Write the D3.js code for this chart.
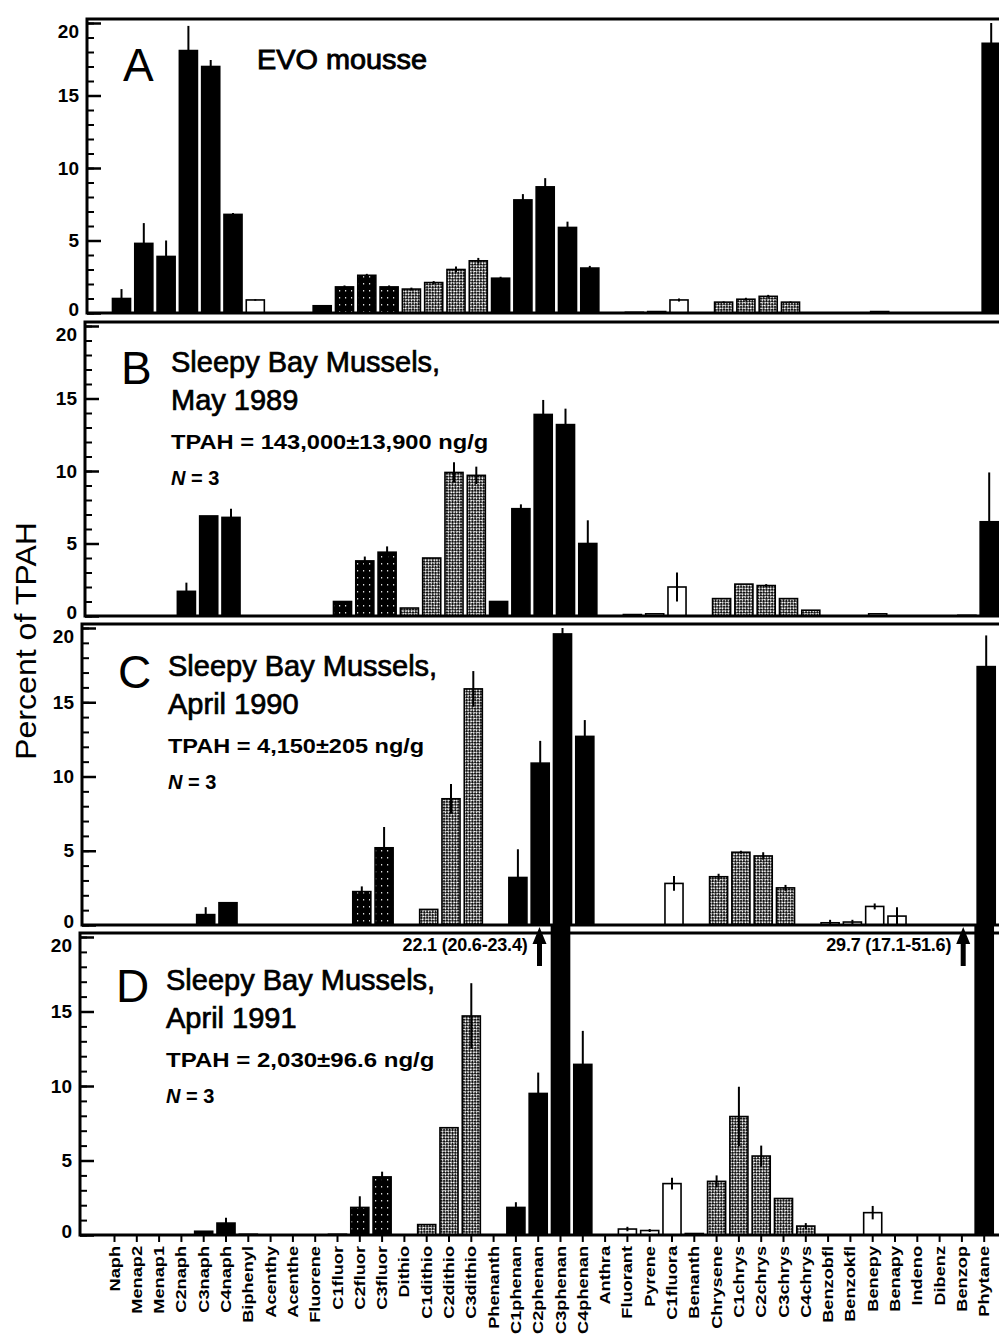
<!DOCTYPE html>
<html>
<head>
<meta charset="utf-8">
<script src="https://cdn.jsdelivr.net/npm/d3@7"></script>
<style>
  body { margin: 0; background: #fff; }
  svg { display: block; font-family: "Liberation Sans", Arial, sans-serif; }
</style>
</head>
<body>
<svg id="chart" width="999" height="1338"></svg>
<script>
// compounds on the x axis
const categories = ['Naph','Menap2','Menap1','C2naph','C3naph','C4naph','Biphenyl','Acenthy','Acenthe','Fluorene',
  'C1fluor','C2fluor','C3fluor','Dithio','C1dithio','C2dithio','C3dithio','Phenanth','C1phenan','C2phenan',
  'C3phenan','C4phenan','Anthra','Fluorant','Pyrene','C1fluora','Benanth','Chrysene','C1chrys','C2chrys',
  'C3chrys','C4chrys','Benzobfl','Benzokfl','Benepy','Benapy','Indeno','Dibenz','Benzop','Phytane'];

// bar fill per compound
const fills = ['black','black','black','black','black','black','white','white','white','black',
  'dark','dark','dark','gray','gray','gray','gray','black','black','black',
  'black','black','white','white','white','white','black','gray','gray','gray',
  'gray','gray','white','white','white','white','white','white','white','black'];

// percent of TPAH, mean and error (upper bar length)
const valuesA = [1.0,4.8,3.9,18.1,17.0,6.8,0.9,0,0,0.5, 1.8,2.6,1.8,1.65,2.1,3.0,3.6,2.4,7.8,8.7,
  5.9,3.1,0,0.05,0.1,0.9,0,0.75,0.95,1.15, 0.75,0,0,0,0.1,0,0,0,0,18.6];
const errA = [0.65,1.4,1.1,1.7,0.45,0.1,0.05,0,0,0, 0.1,0.1,0.1,0.1,0.1,0.2,0.2,0.1,0.4,0.6,
  0.4,0.15,0,0,0,0.1,0,0.05,0.1,0.1, 0.05,0,0,0,0,0,0,0,0,1.6];

const valuesB = [0,0,0,1.7,6.9,6.8,0,0,0,0, 1.0,3.8,4.4,0.55,4.0,9.9,9.7,1.0,7.4,13.9,
  13.2,5.0,0,0.1,0.15,2.0,0,1.2,2.2,2.1, 1.2,0.4,0,0,0.15,0,0,0,0.05,6.5];
const errB = [0,0,0,0.6,0,0.6,0,0,0,0, 0,0.3,0.4,0,0,0.7,0.6,0,0.3,1.0,
  1.1,1.6,0,0,0,1.0,0,0,0,0.1, 0,0,0,0,0,0,0,0,0,3.4];

const valuesC = [0,0,0,0,0.7,1.5,0,0,0,0, 0,2.25,5.2,0,1.05,8.5,15.9,0,3.2,10.9,
  19.6,12.7,0,0,0,2.8,0,3.25,4.9,4.65, 2.5,0,0.15,0.2,1.25,0.6,0,0,0,17.4];
const errC = [0,0,0,0,0.5,0,0,0,0,0, 0,0.35,1.4,0,0,1.0,1.2,0,1.9,1.5,
  0.6,1.1,0,0,0,0.5,0,0.2,0.1,0.25, 0.2,0,0.2,0.15,0.2,0.6,0,0,0,2.1];

const valuesD = [0,0,0,0,0.25,0.8,0.05,0,0,0, 0.05,1.85,3.9,0,0.7,7.2,14.7,0,1.85,9.5,
  22.1,11.45,0,0.4,0.3,3.45,0.1,3.6,7.95,5.3, 2.45,0.6,0,0,1.5,0,0,0,0,29.7];
const errD = [0,0,0,0,0,0.35,0,0,0,0, 0,0.75,0.35,0,0,0,2.2,0,0.35,1.4,
  0,2.25,0,0.15,0.1,0.4,0,0.4,2.0,0.7, 0,0.2,0,0,0.45,0,0,0,0,0];

// panel captions
const panelLetters = ['A','B','C','D'];
const panelTitles = [['EVO mousse'], ['Sleepy Bay Mussels,','May 1989'],
  ['Sleepy Bay Mussels,','April 1990'], ['Sleepy Bay Mussels,','April 1991']];
const panelTpah = ['', 'TPAH = 143,000\u00B113,900 ng/g', 'TPAH = 4,150\u00B1205 ng/g', 'TPAH = 2,030\u00B196.6 ng/g'];
const panelN = ['', '3', '3', '3'];

// off-scale values in panel D
const offscaleCats = ['C3phenan','Phytane'];
const offscaleTexts = ['22.1 (20.6-23.4)','29.7 (17.1-51.6)'];

const yTicks = [0, 5, 10, 15, 20];

// layout for each panel (the scanned figure is slightly skewed)
const panels = [
  {values: valuesA, errs: errA, left: 87, zero: 313, k: 14.5, textDy: 0},
  {values: valuesB, errs: errB, left: 85, zero: 616, k: 14.5, textDy: 0},
  {values: valuesC, errs: errC, left: 82, zero: 925, k: 14.85, textDy: 2},
  {values: valuesD, errs: errD, left: 80, zero: 1235, k: 14.9, textDy: 7}
];

const svg = d3.select('#chart');
const defs = svg.append('defs');

// gray crosshatch
const pg = defs.append('pattern').attr('id','gray').attr('patternUnits','userSpaceOnUse')
  .attr('width',4).attr('height',4).attr('patternTransform','rotate(45)');
pg.append('rect').attr('width',4).attr('height',4).attr('fill','#fff');
pg.append('rect').attr('width',2.4).attr('height',2.4).attr('fill','#111');
pg.append('rect').attr('x',2).attr('y',2).attr('width',2.4).attr('height',2.4).attr('fill','#111');

// dark speckled fill
const pd = defs.append('pattern').attr('id','dark').attr('patternUnits','userSpaceOnUse')
  .attr('width',6).attr('height',7);
pd.append('rect').attr('width',6).attr('height',7).attr('fill','#000');
pd.append('rect').attr('x',3).attr('y',3).attr('width',1.2).attr('height',1.5).attr('fill','#ddd');

const fillOf = f => f === 'black' ? '#000' : f === 'white' ? '#fff' : `url(#${f})`;

const step = 22.3;

panels.forEach((p, pi) => {
  const start = p.left + 34.5 - step / 2;
  const x = d3.scaleBand().domain(categories).range([start, start + categories.length * step])
    .paddingInner(0.19).paddingOuter(0.095);
  const y = d3.scaleLinear().domain([0, 20]).range([p.zero, p.zero - 20 * p.k]).clamp(true);
  const boxTop = y(20) - 4;
  const right = p.left + 935;
  const g = svg.append('g');

  const rows = categories.map((c, i) => ({c, v: p.values[i], e: p.errs[i], f: fills[i]}))
    .filter(d => d.v > 0);
  const topOf = d => d.v > 20 ? boxTop - 7 : y(d.v);

  // bars
  g.selectAll('rect.bar').data(rows).join('rect')
    .attr('class','bar')
    .attr('x', d => x(d.c))
    .attr('width', x.bandwidth())
    .attr('y', d => topOf(d))
    .attr('height', d => Math.max(0.8, p.zero - topOf(d)))
    .attr('fill', d => fillOf(d.f))
    .attr('stroke', '#000')
    .attr('stroke-width', 1.6);

  // error bars
  g.selectAll('line.err').data(rows.filter(d => d.e > 0)).join('line')
    .attr('class','err')
    .attr('x1', d => x(d.c) + x.bandwidth() / 2)
    .attr('x2', d => x(d.c) + x.bandwidth() / 2)
    .attr('y1', d => y(Math.max(0, d.v - d.e)))
    .attr('y2', d => y(d.v + d.e))
    .attr('stroke', '#000')
    .attr('stroke-width', 2);

  // frame
  g.append('path')
    .attr('d', `M${right},${boxTop}H${p.left}V${p.zero}H${right}`)
    .attr('fill','none').attr('stroke','#000').attr('stroke-width',3);

  // y axis, minor + major ticks pointing inward
  g.append('g').attr('transform', `translate(${p.left},0)`)
    .call(d3.axisLeft(y).tickValues(d3.range(0, 21)).tickSize(-7).tickFormat(''))
    .call(s => s.select('.domain').remove())
    .call(s => s.selectAll('line').attr('stroke-width', 2));
  g.append('g').attr('transform', `translate(${p.left},0)`)
    .call(d3.axisLeft(y).tickValues(yTicks).tickSize(-14).tickPadding(8))
    .call(s => s.select('.domain').remove())
    .call(s => s.selectAll('line').attr('stroke-width', 2.5))
    .call(s => s.selectAll('text').attr('font-size', 19).attr('font-weight', 'bold')
      .attr('font-family','"Liberation Sans", Arial, sans-serif').attr('fill','#000')
      // keep end labels clear of the neighbouring panels
      .attr('y', d => d === 20 ? 8 : d === 0 ? -4 : 0));

  // captions
  const ty = boxTop + p.textDy;
  g.append('text').attr('x', p.left + 36).attr('y', ty + 62)
    .attr('font-size', 46).text(panelLetters[pi]);
  if (pi === 0) {
    g.append('text').attr('x', p.left + 170).attr('y', ty + 50)
      .attr('font-size', 28).attr('stroke','#000').attr('stroke-width',0.9)
      .attr('textLength', 170).attr('lengthAdjust','spacingAndGlyphs')
      .text(panelTitles[pi][0]);
  } else {
    panelTitles[pi].forEach((t, li) => {
      g.append('text').attr('x', p.left + 86).attr('y', ty + 50 + li * 38)
        .attr('font-size', 29).attr('stroke','#000').attr('stroke-width',0.7)
        .text(t);
    });
    g.append('text').attr('x', p.left + 86).attr('y', ty + 127)
      .attr('font-size', 20).attr('font-weight','bold')
      .attr('textLength', panelTpah[pi].length * 12.2).attr('lengthAdjust','spacingAndGlyphs')
      .text(panelTpah[pi]);
    const nt = g.append('text').attr('x', p.left + 86).attr('y', ty + 163)
      .attr('font-size', 20).attr('font-weight','bold');
    nt.append('tspan').attr('font-style','italic').text('N');
    nt.append('tspan').text(' = ' + panelN[pi]);
  }

  // category axis under the last panel
  if (pi === panels.length - 1) {
    g.append('g').attr('transform', `translate(0,${p.zero})`)
      .call(d3.axisBottom(x).tickSize(7).tickFormat(''))
      .call(s => s.select('.domain').remove())
      .call(s => s.selectAll('line').attr('stroke-width', 2));
    g.selectAll('text.xl').data(categories).join('text')
      .attr('class','xl')
      .attr('transform', d => `translate(${x(d) + x.bandwidth() / 2},${p.zero + 11}) rotate(-90) scale(1.3,1)`)
      .attr('text-anchor','end')
      .attr('dy','0.36em')
      .attr('font-size', 14)
      .attr('font-weight','bold')
      .text(d => d);

    // off-scale markers
    offscaleCats.forEach((c, i) => {
      const ax = x(c) + x.bandwidth() / 2 - 21;
      g.append('path')
        .attr('d', `M${ax},${boxTop - 6}L${ax + 7},${boxTop + 11}L${ax + 2.5},${boxTop + 11}L${ax + 2.5},${boxTop + 33}` +
          `L${ax - 2.5},${boxTop + 33}L${ax - 2.5},${boxTop + 11}L${ax - 7},${boxTop + 11}Z`)
        .attr('fill','#000');
      g.append('text').attr('x', ax - 12).attr('y', boxTop + 18)
        .attr('text-anchor','end').attr('font-size', 18).attr('font-weight','bold')
        .attr('letter-spacing', -0.2)
        .text(offscaleTexts[i]);
    });
  }
});

// shared y title
svg.append('text')
  .attr('transform', 'translate(36,641) rotate(-90)')
  .attr('text-anchor','middle')
  .attr('font-size', 30)
  .attr('textLength', 238).attr('lengthAdjust','spacingAndGlyphs')
  .text('Percent of TPAH');
</script>
</body>
</html>
